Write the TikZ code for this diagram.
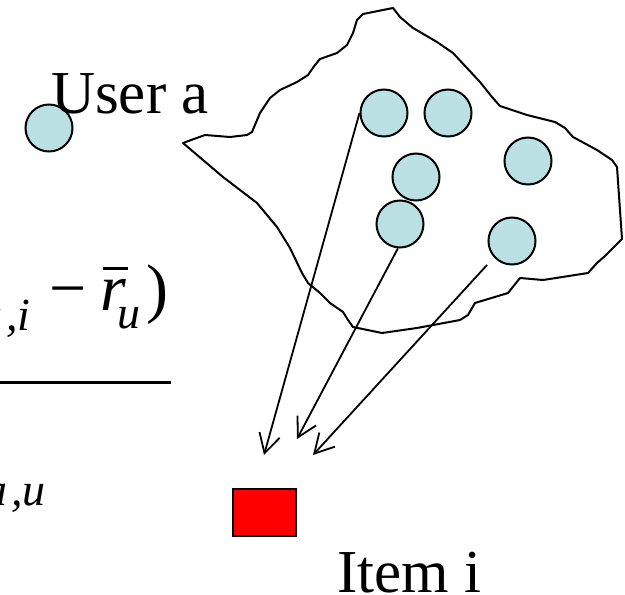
\documentclass[tikz,border=0pt]{standalone}
\usepackage{fontspec}
\setmainfont{Liberation Serif}
\usetikzlibrary{arrows.meta, positioning}
\definecolor{userblue}{RGB}{187,224,227}

\begin{document}
\begin{tikzpicture}[
      x=1pt, y=-1pt,
      >={Straight Barb[length=19pt, width=21pt]},
      every node/.style={inner sep=0pt},
      user/.style={circle, draw, line width=2pt, fill=userblue, minimum size=47pt},
      itembox/.style={draw, line width=2pt, fill=red, minimum width=63pt, minimum height=47pt},
      bigtext/.style={font=\fontsize{61}{70}\selectfont},
      bigmath/.style={font=\fontsize{66}{70}\selectfont},
      bigit/.style={font=\fontsize{66}{70}\selectfont\itshape},
      subit/.style={font=\fontsize{46}{50}\selectfont\itshape},
      link/.style={->, line width=1.8pt},
    ]

    \useasboundingbox (0,0) rectangle (625,595);
    \clip (0,0) rectangle (625,595);

    % part of the prediction formula
    \node[subit, anchor=base east] (subui) at (31,330) {u\kern4pt,i};
    \node[bigmath, anchor=base west] (minus) at (49,310) {−};
    \node[bigit, anchor=base west] (rbar) at (100,310) {r};
    \draw[line width=3pt] (103,268) -- (128,268);
    \node[subit, anchor=base west] (subu) at (117,328) {u};
    \node[bigmath, anchor=base west] (paren) at (146,310) {)};
    \draw[line width=3pt] (0,382) -- (171,382);
    \node[subit, anchor=base east] (den) at (46,505) {a\kern4pt,u};

    % active user
    \node[user] (ua) at (49,128) {};
    \node[bigtext, anchor=base west] (ualabel) at (51,113) {User a};

    % neighbourhood
    \draw[line width=2pt, line join=round]
      (393,8) -- (363,14) -- (357,20) -- (353,33) -- (347,45) -- (337,53)
      -- (320,59) -- (315,65) -- (308,75) -- (297,82) -- (280,90) -- (270,98)
      -- (260,113) -- (252,132) -- (247,135) -- (230,137) -- (205,135)
      -- (183,143) -- (223,177) -- (257,203) -- (277,227) -- (290,248)
      -- (302,273) -- (308,283) -- (320,293) -- (330,303) -- (343,312)
      -- (348,320) -- (353,327) -- (382,333) -- (417,328) -- (460,320)
      -- (468,315) -- (475,303) -- (508,293) -- (520,278) -- (543,280)
      -- (588,273) -- (597,263) -- (605,256) -- (613,248) -- (622,239)
      -- (617,167) -- (612,160) -- (597,150) -- (573,137) -- (565,128)
      -- (555,122) -- (527,115) -- (500,106) -- (492,97) -- (480,82)
      -- (453,53) -- (437,42) -- (413,28) -- (400,17) -- cycle;

    \node[user] (n1) at (384,113) {};
    \node[user] (n2) at (448,113) {};
    \node[user] (n3) at (528,161) {};
    \node[user] (n4) at (416,177) {};
    \node[user] (n5) at (400,224) {};
    \node[user] (n6) at (512,241) {};

    % target item
    \node[itembox] (item) at (264.5,512.5) {};
    \node[bigtext, anchor=base west] (itemlabel) at (337,592) {Item i};

    \coordinate (tip1) at (264,455);
    \coordinate (tip2) at (297,439);
    \coordinate (tip3) at (313,455);
    \coordinate (from6) at (487,265);

    \draw[link] (n1.180) -- (tip1);
    \draw[link] (n5.-95) -- (tip2);
    \draw[link] (from6) -- (tip3);

  \end{tikzpicture}
\end{document}
